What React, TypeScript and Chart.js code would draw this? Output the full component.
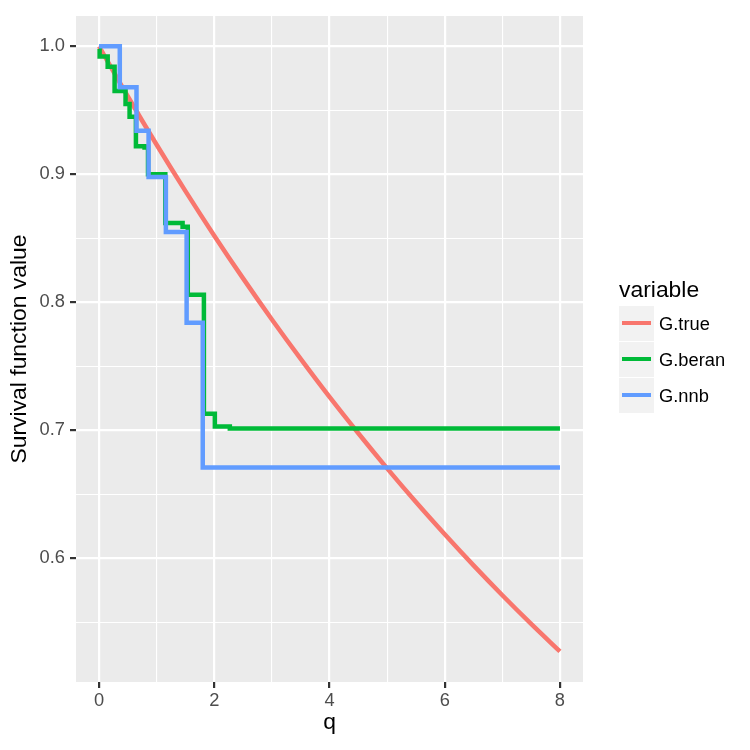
import React, { useEffect, useRef } from "react";
import { Chart, registerables } from "chart.js";

Chart.register(...registerables);

// ---- data ----
const trueQ = [0, 0.5, 1, 1.5, 2, 2.5, 3, 3.5, 4, 4.5, 5, 5.5, 6, 6.5, 7, 7.5, 8];
const trueS = [1.0, 0.9608, 0.9231, 0.8869, 0.8521, 0.8187, 0.7866, 0.7558, 0.7261, 0.6977, 0.6703, 0.644, 0.6188, 0.5945, 0.5712, 0.5488, 0.5273];

const beranQ = [0, 0.01, 0.15, 0.27, 0.46, 0.53, 0.64, 0.79, 0.85, 1.15, 1.45, 1.54, 1.82, 2.01, 2.27, 8];
const beranS = [0.998, 0.992, 0.984, 0.965, 0.955, 0.945, 0.922, 0.921, 0.9, 0.862, 0.859, 0.806, 0.713, 0.703, 0.7015, 0.7015];

const nnbQ = [0, 0.36, 0.65, 0.86, 1.16, 1.52, 1.8, 8];
const nnbS = [1.0, 0.968, 0.934, 0.898, 0.855, 0.784, 0.671, 0.671];

const seriesNames = ["G.true", "G.beran", "G.nnb"];
const seriesColors = ["#F8766D", "#00BA38", "#619CFF"];

const xTickValues = [0, 1, 2, 3, 4, 5, 6, 7, 8];
const xMajor = [0, 2, 4, 6, 8];
const yTickValues = [0.55, 0.6, 0.65, 0.7, 0.75, 0.8, 0.85, 0.9, 0.95, 1.0];
const yMajor = [0.6, 0.7, 0.8, 0.9, 1.0];

const xTitle = "q";
const yTitle = "Survival function value";
const legendTitle = "variable";

const FONT = "'Liberation Sans', Arial, Helvetica, sans-serif";
const LINE_W = 4.5;

const isMajor = (v: number, majors: number[]) => majors.some((m) => Math.abs(m - v) < 1e-6);

export default function App() {
  const ref = useRef<HTMLCanvasElement | null>(null);

  useEffect(() => {
    if (!ref.current) return;

    const panelBg = {
      id: "panelBg",
      beforeDraw(chart: any) {
        const { ctx, chartArea } = chart;
        ctx.save();
        ctx.fillStyle = "#EBEBEB";
        ctx.fillRect(chartArea.left, chartArea.top, chartArea.right - chartArea.left, chartArea.bottom - chartArea.top);
        ctx.restore();
      },
    };

    const ggLegend = {
      id: "ggLegend",
      afterDraw(chart: any) {
        const ctx = chart.ctx;
        ctx.save();
        ctx.textAlign = "left";
        ctx.textBaseline = "alphabetic";
        ctx.fillStyle = "#000000";
        ctx.font = `22.9px ${FONT}`;
        ctx.fillText(legendTitle, 619, 297);
        seriesNames.forEach((name, i) => {
          const top = 306 + i * 36;
          ctx.fillStyle = "#F2F2F2";
          ctx.fillRect(619, top, 35, 35);
          ctx.strokeStyle = seriesColors[i];
          ctx.lineWidth = 4;
          ctx.lineCap = "butt";
          ctx.beginPath();
          ctx.moveTo(622, top + 17);
          ctx.lineTo(651, top + 17);
          ctx.stroke();
          ctx.fillStyle = "#000000";
          ctx.font = `18.3px ${FONT}`;
          ctx.fillText(name, 659, top + 24);
        });
        ctx.restore();
      },
    };

    const gridColor = "#FFFFFF";

    const chart = new Chart(ref.current, {
      type: "line",
      data: {
        datasets: [
          {
            label: seriesNames[0],
            data: trueQ.map((q, i) => ({ x: q, y: trueS[i] })),
            borderColor: seriesColors[0],
            backgroundColor: seriesColors[0],
            borderWidth: LINE_W,
            pointRadius: 0,
            cubicInterpolationMode: "monotone",
            fill: false,
            order: 3,
          },
          {
            label: seriesNames[1],
            data: beranQ.map((q, i) => ({ x: q, y: beranS[i] })),
            borderColor: seriesColors[1],
            backgroundColor: seriesColors[1],
            borderWidth: LINE_W,
            pointRadius: 0,
            stepped: true,
            fill: false,
            order: 2,
          },
          {
            label: seriesNames[2],
            data: nnbQ.map((q, i) => ({ x: q, y: nnbS[i] })),
            borderColor: seriesColors[2],
            backgroundColor: seriesColors[2],
            borderWidth: LINE_W,
            pointRadius: 0,
            stepped: true,
            fill: false,
            order: 1,
          },
        ],
      },
      options: {
        animation: false,
        responsive: false,
        maintainAspectRatio: false,
        devicePixelRatio: 1,
        layout: { padding: { left: 0, top: 11, right: 167, bottom: 0 } },
        plugins: {
          legend: { display: false },
          tooltip: { enabled: false },
        },
        scales: {
          x: {
            type: "linear",
            min: -0.4,
            max: 8.4,
            afterBuildTicks: (axis: any) => {
              axis.ticks = xTickValues.map((v) => ({ value: v }));
            },
            afterFit: (axis: any) => {
              axis.height = 68;
            },
            border: { display: false },
            grid: {
              color: () => gridColor,
              lineWidth: (c: any) => (c.tick && isMajor(c.tick.value, xMajor) ? 2.2 : 1.1),
              tickColor: (c: any) => (c.tick && isMajor(c.tick.value, xMajor) ? "#333333" : "rgba(0,0,0,0)"),
              tickWidth: 2.2,
              tickLength: 6,
              drawTicks: true,
            },
            ticks: {
              autoSkip: false,
              maxRotation: 0,
              padding: 2,
              color: "#4D4D4D",
              font: { family: FONT, size: 18.3 },
              callback: (v: any) => (isMajor(Number(v), xMajor) ? String(Number(v)) : ""),
            },
            title: {
              display: true,
              text: xTitle,
              color: "#000000",
              font: { family: FONT, size: 22.9 },
              padding: { top: 0, bottom: 14 },
            },
          },
          y: {
            type: "linear",
            min: 0.5034,
            max: 1.0237,
            afterBuildTicks: (axis: any) => {
              axis.ticks = yTickValues.map((v) => ({ value: v }));
            },
            afterFit: (axis: any) => {
              axis.width = 76;
            },
            border: { display: false },
            grid: {
              color: () => gridColor,
              lineWidth: (c: any) => (c.tick && isMajor(c.tick.value, yMajor) ? 2.2 : 1.1),
              tickColor: (c: any) => (c.tick && isMajor(c.tick.value, yMajor) ? "#333333" : "rgba(0,0,0,0)"),
              tickWidth: 2.2,
              tickLength: 6,
              drawTicks: true,
            },
            ticks: {
              autoSkip: false,
              padding: 5,
              color: "#4D4D4D",
              font: { family: FONT, size: 18.3 },
              callback: (v: any) => (isMajor(Number(v), yMajor) ? Number(v).toFixed(1) : ""),
            },
            title: {
              display: true,
              text: yTitle,
              color: "#000000",
              font: { family: FONT, size: 22.9 },
              padding: { top: 6, bottom: 0 },
            },
          },
        },
      },
      plugins: [panelBg, ggLegend],
    } as any);

    return () => chart.destroy();
  }, []);

  return (
    <div style={{ position: "absolute", left: 0, top: 0, width: 750, height: 750, background: "#FFFFFF" }}>
      <canvas ref={ref} width={750} height={750} style={{ width: 750, height: 750, display: "block" }} />
    </div>
  );
}
